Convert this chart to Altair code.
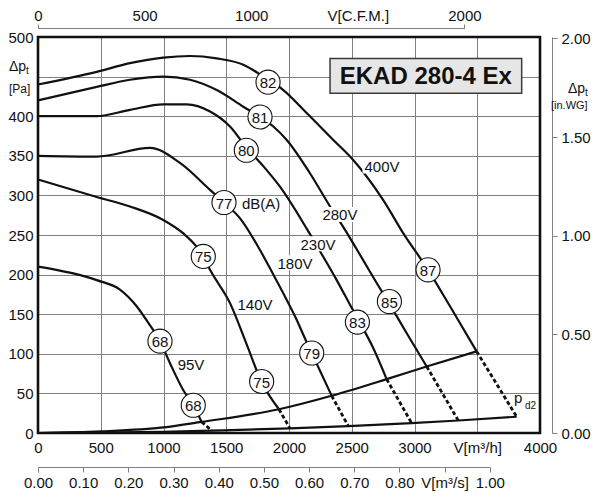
import altair as alt
import pandas as pd

# ---------------- data ----------------
SERIES = ["400V", "280V", "230V", "180V", "140V", "95V"]

Q_400V = [0, 468, 733, 998, 1211, 1424, 1636, 1795, 1955, 2141, 2353, 2510, 2751, 2911, 3108, 3283, 3495]
P_400V = [440, 456, 467, 474, 476, 473, 465, 450, 433, 404, 370, 345, 294, 252, 206, 160, 103]

Q_280V = [0, 468, 733, 998, 1211, 1424, 1636, 1769, 1875, 1982, 2167, 2327, 2433, 2592, 2700, 2800, 2938, 3097]
P_280V = [420, 437, 446, 450, 446, 433, 412, 399, 387, 370, 328, 286, 260, 218, 189, 163, 126, 84]

Q_230V = [0, 468, 733, 998, 1185, 1371, 1530, 1663, 1795, 1928, 2141, 2234, 2380, 2486, 2545, 2672, 2778]
P_230V = [400, 400, 408, 415, 415, 406, 387, 360, 337, 311, 258, 233, 193, 162, 145, 107, 68]

Q_180V = [0, 468, 892, 1131, 1371, 1482, 1610, 1769, 1875, 1982, 2061, 2114, 2181, 2340]
P_180V = [350, 349, 360, 341, 307, 291, 271, 231, 200, 168, 143, 124, 101, 47]

Q_140V = [0, 468, 733, 998, 1158, 1265, 1317, 1371, 1530, 1665, 1777, 1920]
P_140V = [320, 298, 286, 269, 252, 235, 223, 206, 164, 111, 66, 30]

Q_95V = [0, 468, 653, 786, 879, 972, 1052, 1158, 1237, 1304]
P_95V = [210, 193, 181, 160, 139, 116, 88, 54, 35, 14]

# system curve through the ends of the solid curves
Q_SYS = [0, 500, 1000, 1304, 1920, 2340, 2778, 3097, 3495]
P_SYS = [0, 2, 7, 14, 30, 47, 68, 84, 103]

# dynamic pressure curve p_d2
Q_PD2 = [0, 500, 1000, 1384, 2008, 2473, 2977, 3349, 3814]
P_PD2 = [0, 0.5, 1.5, 3, 5.8, 8.7, 12.5, 15.8, 20.6]

# dashed continuations end on the p_d2 curve (same order as SERIES)
DASH_END_Q = [3814, 3349, 2977, 2473, 2008, 1384]
DASH_END_P = [20.6, 15.8, 12.5, 8.7, 5.8, 3]

# sound level markers dB(A)
CIRCLE_TEXT = ["82", "81", "80", "77", "75", "68", "68", "75", "79", "83", "85", "87"]
CIRCLE_Q = [1833, 1769, 1660, 1482, 1317, 972, 1237, 1782, 2181, 2545, 2800, 3108]
CIRCLE_P = [443, 399, 357, 291, 223, 116, 35, 65, 101, 140, 166, 206]

# voltage labels
VOLT_TEXT = ["400V", "280V", "230V", "180V", "140V", "95V"]
VOLT_Q = [2741, 2406, 2231, 2048, 1729, 1219]
VOLT_P = [337, 276, 239, 215, 163, 87]

X_TICKS = [0, 500, 1000, 1500, 2000, 2500, 3000, 3500, 4000]
Y_TICKS = [0, 50, 100, 150, 200, 250, 300, 350, 400, 450, 500]
CFM_TICKS = [0, 500, 1000, 1500, 2000]
WG_TICKS = [0.0, 0.5, 1.0, 1.5, 2.0]
MS_TICKS = [0.0, 0.1, 0.2, 0.3, 0.4, 0.5, 0.6, 0.7, 0.8, 0.9, 1.0]

TITLE = "EKAD 280-4 Ex"

# unit conversions
M3H_PER_CFM = 1.69901
PA_PER_INWG = 249.089
M3H_PER_M3S = 3600.0

# ---------------- layout ----------------
W, H = 502, 396
Q_MAX, P_MAX = 4000, 500
FONT = "Liberation Sans"
INK = "#111111"
GRAY = "#808080"

xs = alt.Scale(domain=[0, Q_MAX], nice=False, zero=False)
ys = alt.Scale(domain=[0, P_MAX], nice=False, zero=False)


def X(field="Q", axis=None):
    return alt.X(f"{field}:Q", scale=xs, axis=axis)


def Y(field="P", axis=None):
    return alt.Y(f"{field}:Q", scale=ys, axis=axis)


# ---------------- tables ----------------
curve_rows = []
for name, qs, ps in [("400V", Q_400V, P_400V), ("280V", Q_280V, P_280V), ("230V", Q_230V, P_230V),
                     ("180V", Q_180V, P_180V), ("140V", Q_140V, P_140V), ("95V", Q_95V, P_95V),
                     ("sys", Q_SYS, P_SYS), ("pd2", Q_PD2, P_PD2)]:
    for i, (q, p) in enumerate(zip(qs, ps)):
        curve_rows.append({"series": name, "Q": q, "P": p, "i": i})
curve_df = pd.DataFrame(curve_rows)

last_pts = {"400V": (Q_400V[-1], P_400V[-1]), "280V": (Q_280V[-1], P_280V[-1]),
            "230V": (Q_230V[-1], P_230V[-1]), "180V": (Q_180V[-1], P_180V[-1]),
            "140V": (Q_140V[-1], P_140V[-1]), "95V": (Q_95V[-1], P_95V[-1])}
dash_rows = []
for name, qe, pe in zip(SERIES, DASH_END_Q, DASH_END_P):
    q0, p0 = last_pts[name]
    dash_rows.append({"series": name, "Q": q0, "P": p0, "i": 0})
    dash_rows.append({"series": name, "Q": qe, "P": pe, "i": 1})
dash_df = pd.DataFrame(dash_rows)

circle_df = pd.DataFrame({"t": CIRCLE_TEXT, "Q": CIRCLE_Q, "P": CIRCLE_P})
volt_df = pd.DataFrame({"t": VOLT_TEXT, "Q": VOLT_Q, "P": VOLT_P})
volt4_df = volt_df[volt_df["t"].str.len() == 4]
volt3_df = volt_df[volt_df["t"].str.len() == 3]

# ---------------- axes ----------------
common = dict(labelFont=FONT, labelFontSize=15, labelColor=INK, labelFlush=False,
              labelOverlap=False, title=None)

main_x_axis = alt.Axis(values=X_TICKS, format="d", grid=True, gridColor=GRAY, gridWidth=1, ticks=False,
                       domain=False, labelPadding=7,
                       labelExpr="datum.value == 3500 ? 'V[m³/h]' : datum.label", **common)
main_y_axis = alt.Axis(values=Y_TICKS, format="d", grid=True, gridColor=GRAY, gridWidth=1, ticks=False,
                       domain=False, labelPadding=5,
                       labelExpr="datum.value == 450 ? '' : datum.label", **common)

curves = alt.Chart(curve_df).mark_line(color=INK, strokeWidth=2.2, interpolate="monotone").encode(
    x=X(axis=main_x_axis), y=Y(axis=main_y_axis), detail="series:N", order="i:Q")

dashed = alt.Chart(dash_df).mark_line(color=INK, strokeWidth=2.8, strokeDash=[4, 2.5]).encode(
    x=X(), y=Y(), detail="series:N", order="i:Q")

# white label backgrounds
box4 = alt.Chart(volt4_df).mark_point(shape="M-2.6,-1L2.6,-1L2.6,1L-2.6,1Z", size=225, filled=True,
                                      fill="white", fillOpacity=1, strokeWidth=0, opacity=1).encode(x=X(), y=Y())
box3 = alt.Chart(volt3_df).mark_point(shape="M-2,-1L2,-1L2,1L-2,1Z", size=225, filled=True,
                                      fill="white", fillOpacity=1, strokeWidth=0, opacity=1).encode(x=X(), y=Y())
volt_text = alt.Chart(volt_df).mark_text(font=FONT, fontSize=15, color=INK, align="center",
                                         baseline="middle", dy=1).encode(x=X(), y=Y(), text="t:N")

circles = alt.Chart(circle_df).mark_circle(size=580, color="white", opacity=1, fillOpacity=1,
                                           stroke=INK, strokeWidth=1.1).encode(x=X(), y=Y())
circle_text = alt.Chart(circle_df).mark_text(font=FONT, fontSize=15, color=INK, align="center",
                                             baseline="middle", dy=1).encode(x=X(), y=Y(), text="t:N")

dba = alt.Chart(pd.DataFrame({"t": ["dB(A)"], "Q": [1625], "P": [290]})).mark_text(
    font=FONT, fontSize=15, color=INK, align="left", baseline="middle", dy=1).encode(x=X(), y=Y(), text="t:N")

pd2_p = alt.Chart(pd.DataFrame({"t": ["p"], "Q": [3793], "P": [38]})).mark_text(
    font=FONT, fontSize=15, color=INK, align="left", baseline="alphabetic").encode(x=X(), y=Y(), text="t:N")
pd2_sub = alt.Chart(pd.DataFrame({"t": ["d2"], "Q": [3880], "P": [30]})).mark_text(
    font=FONT, fontSize=10, color=INK, align="left", baseline="alphabetic").encode(x=X(), y=Y(), text="t:N")

# title box
title_box = alt.Chart(pd.DataFrame({"Q": [2327], "Q2": [3854], "P": [429], "P2": [473]})).mark_rect(
    fill="#e6e6e6", stroke="#3a3a3a", strokeWidth=1.5).encode(
    x=X(), x2="Q2:Q", y=Y(), y2="P2:Q")
title_text = alt.Chart(pd.DataFrame({"t": [TITLE], "Q": [3090], "P": [451]})).mark_text(
    font=FONT, fontSize=24, fontWeight="bold", color=INK, align="center", baseline="middle", dy=1).encode(
    x=X(), y=Y(), text="t:N")

# frame
frame = alt.Chart(pd.DataFrame({"Q": [0], "Q2": [Q_MAX], "P": [0], "P2": [P_MAX]})).mark_rect(
    fillOpacity=0, stroke=INK, strokeWidth=2.6).encode(x=X(), x2="Q2:Q", y=Y(), y2="P2:Q")

# axis titles placed outside the plot (pixel positions relative to the plot)
ttl_df = pd.DataFrame({
    "t": ["Δp", "t", "[Pa]", "Δp", "t", "[in.WG]"],
    "px": [-29, -12, -29, 530, 547, 513],
    "py": [34, 37, 56, 56, 59, 72],
    "fs": [14, 10, 12, 14, 10, 11],
})


def ttl_layer(fs):
    return alt.Chart(ttl_df[ttl_df["fs"] == fs]).mark_text(
        font=FONT, fontSize=fs, color=INK, align="left", baseline="alphabetic").encode(
        x=alt.X("px:Q", scale=None, axis=None), y=alt.Y("py:Q", scale=None, axis=None), text="t:N")


titles = [ttl_layer(fs) for fs in [14, 10, 12, 11]]

# secondary axes
sec = dict(domainColor=GRAY, tickColor=GRAY, domainWidth=1, tickWidth=1, grid=False, **common)

cfm_axis = alt.Axis(orient="top", offset=9, values=CFM_TICKS, format="d", tickSize=4, labelPadding=1,
                    tickOpacity={"condition": {"test": "datum.value == 0 || datum.value == 2000", "value": 1}, "value": 0},
                    labelExpr="datum.value == 1500 ? 'V[C.F.M.]' : datum.label", **sec)
cfm_layer = alt.Chart(pd.DataFrame({"cfm": [0]})).mark_point(opacity=0).encode(
    x=alt.X("cfm:Q", scale=alt.Scale(domain=[0, 2000], range=[0, 2000 * M3H_PER_CFM * W / Q_MAX], nice=False),
            axis=cfm_axis))

wg_axis = alt.Axis(orient="right", offset=12, values=WG_TICKS, format=".2f", tickSize=5, labelPadding=4, **sec)
wg_layer = alt.Chart(pd.DataFrame({"wg": [0]})).mark_point(opacity=0).encode(
    y=alt.Y("wg:Q", scale=alt.Scale(domain=[0, P_MAX / PA_PER_INWG], nice=False, zero=False), axis=wg_axis))

ms_axis = alt.Axis(orient="bottom", offset=34, values=MS_TICKS, format=".2f", tickSize=5, labelPadding=3,
                   labelExpr="abs(datum.value - 0.9) < 0.001 ? 'V[m³/s]' : datum.label", **sec)
ms_layer = alt.Chart(pd.DataFrame({"ms": [0]})).mark_point(opacity=0).encode(
    x=alt.X("ms:Q", scale=alt.Scale(domain=[0, 1], range=[0, M3H_PER_M3S * W / Q_MAX], nice=False),
            axis=ms_axis))

chart = alt.layer(
    curves, dashed, box4, box3, volt_text, circles, circle_text, dba, pd2_p, pd2_sub,
    title_box, title_text, frame, *titles,
    cfm_layer, wg_layer, ms_layer,
).resolve_scale(x="independent", y="independent").properties(
    width=W, height=H,
    autosize=alt.AutoSizeParams(type="none"),
    padding={"left": 30, "top": 29, "right": 52, "bottom": 59},
    background="white",
).configure_view(stroke="transparent")

chart.save("out.html", embed_options={"renderer": "svg", "actions": False})
